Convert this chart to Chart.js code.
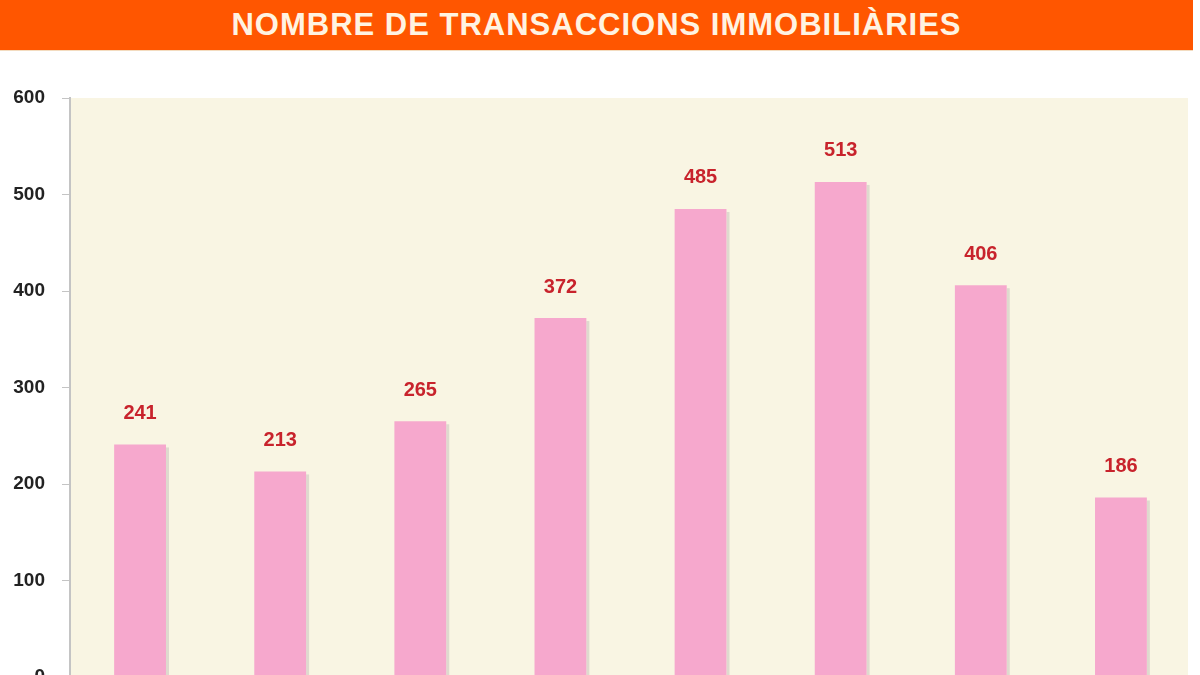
<!DOCTYPE html>
<html>
<head>
<meta charset="utf-8">
<script src="https://cdn.jsdelivr.net/npm/chart.js@4"></script>
<style>
  html, body { margin: 0; padding: 0; background: #ffffff; overflow: hidden; width: 1200px; height: 675px; }
  #title {
    width: 1193px; height: 50px; background: #ff5600;
    color: #fff3e2; font-family: "Liberation Sans", Arial, sans-serif;
    font-weight: bold; font-size: 31px; line-height: 50px; text-align: center;
    letter-spacing: 1px;
    border-bottom: 1px solid #f3dcc0;
  }
  #wrap { width: 1200px; height: 700px; }
</style>
</head>
<body>
<div id="title">NOMBRE DE TRANSACCIONS IMMOBILIÀRIES</div>
<div id="wrap"><canvas id="transaccions"></canvas></div>
<script>
// columns are cut off at the bottom of the picture, so their names are not shown
const categories = ['1', '2', '3', '4', '5', '6', '7', '8'];
const transaccions = [241, 213, 265, 372, 485, 513, 406, 186];
const yTicks = [0, 100, 200, 300, 400, 500, 600];

const plotBackground = {
  id: 'plotBackground',
  beforeDraw(chart) {
    const { ctx, chartArea } = chart;
    ctx.save();
    ctx.fillStyle = '#f9f5e3';
    ctx.fillRect(chartArea.left + 1, chartArea.top, chartArea.right - chartArea.left - 4, chartArea.bottom - chartArea.top);
    ctx.restore();
  }
};

const barShadow = {
  id: 'barShadow',
  beforeDatasetsDraw(chart) {
    const { ctx } = chart;
    ctx.save();
    ctx.fillStyle = 'rgba(200, 195, 190, 0.55)';
    chart.getDatasetMeta(0).data.forEach(bar => {
      const w = bar.width;
      ctx.fillRect(bar.x + w / 2, bar.y + 3, 3, bar.base - bar.y);
    });
    ctx.restore();
  }
};

const valueLabels = {
  id: 'valueLabels',
  afterDatasetsDraw(chart) {
    const { ctx } = chart;
    ctx.save();
    ctx.fillStyle = '#c8232c';
    ctx.font = 'bold 20px "Liberation Sans", Arial, sans-serif';
    ctx.textAlign = 'center';
    ctx.textBaseline = 'middle';
    chart.getDatasetMeta(0).data.forEach((bar, i) => {
      ctx.fillText(transaccions[i], bar.x, bar.y - 31);
    });
    ctx.restore();
  }
};

const ctx = document.getElementById('transaccions');
const chart = new Chart(ctx, {
  type: 'bar',
  data: {
    labels: categories,
    datasets: [{
      data: transaccions,
      backgroundColor: '#f6a8cd',
      borderWidth: 0,
      barPercentage: 0.37,
      categoryPercentage: 1
    }]
  },
  options: {
    responsive: true,
    maintainAspectRatio: false,
    animation: false,
    layout: {
      padding: { top: 47, bottom: 74, right: 9, left: 0 }
    },
    plugins: {
      legend: { display: false },
      tooltip: { enabled: false }
    },
    scales: {
      x: {
        display: false
      },
      y: {
        min: 0,
        max: 600,
        afterFit(scale) { scale.width = 70; },
        afterBuildTicks(scale) { scale.ticks = yTicks.map(v => ({ value: v })); },
        border: { display: true, color: '#c4c4c4', width: 2 },
        grid: {
          drawOnChartArea: false,
          drawTicks: true,
          tickLength: 8,
          color: '#c4c4c4',
          lineWidth: 1
        },
        ticks: {
          padding: 17,
          color: '#222222',
          font: { family: '"Liberation Sans", Arial, sans-serif', size: 19, weight: 'bold' }
        }
      }
    }
  },
  plugins: [plotBackground, barShadow, valueLabels]
});
</script>
</body>
</html>
